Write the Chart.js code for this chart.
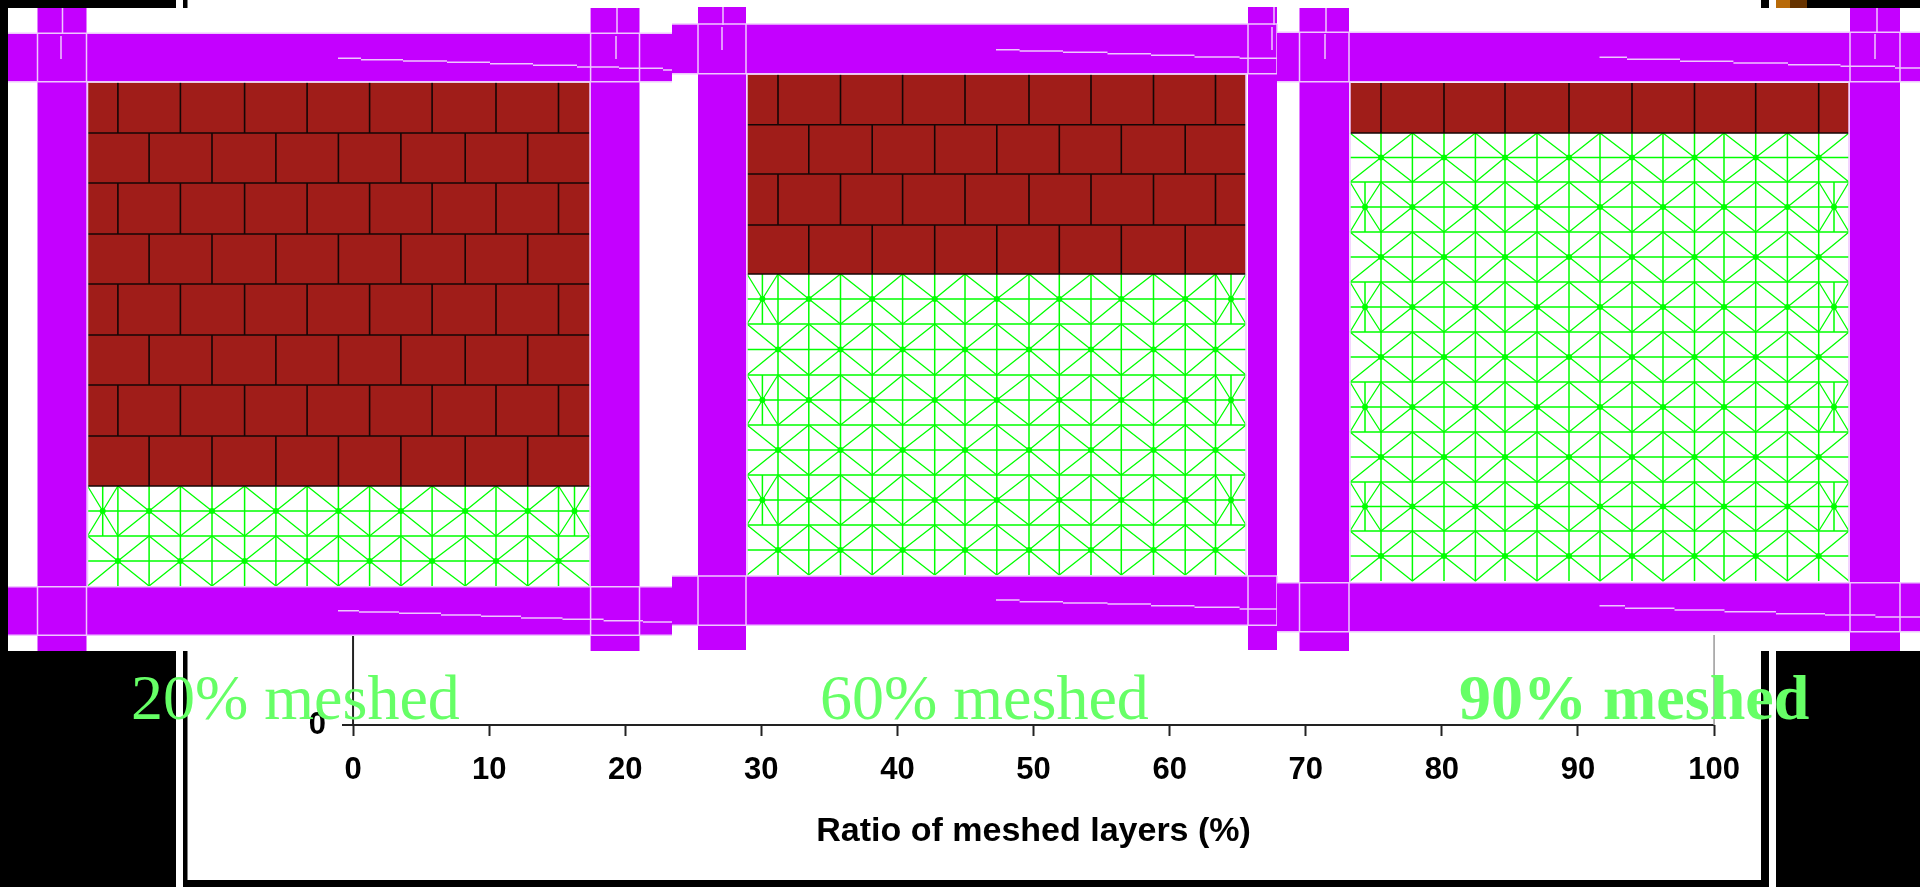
<!DOCTYPE html>
<html>
<head>
<meta charset="utf-8">
<title>Ratio of meshed layers</title>
<script src="https://cdn.jsdelivr.net/npm/chart.js@4"></script>
<style>
  html, body { margin: 0; padding: 0; background: #fff; overflow: hidden; }
  canvas { display: block; }
</style>
</head>
<body>
<canvas id="meshChart" width="1920" height="887"></canvas>
<script>
// AXIS
const xTicks = [0, 10, 20, 30, 40, 50, 60, 70, 80, 90, 100];
const yTicks = [0];
const xTitle = "Ratio of meshed layers (%)";

// CAPTIONS
const captions = ["20% meshed", "60% meshed", "90% meshed"];
const captionStart = [131, 820, 1459];

const rows1 = [82.7, 133, 183, 234, 284, 335, 385, 436, 486, 536, 586];
const brickRows1 = 8;
const jointsA1 = [117.9, 180.4, 244.6, 307.1, 369.6, 432.1, 496, 558.5];
const jointsB1 = [149.1, 212, 275.9, 338.4, 400.9, 465.2, 527.7];
const halves1 = [102.7, 574.5];
const field1 = [87.5, 590];
const columnsX1 = [37.5, 86.5, 590.6, 639.5];
const beamsY1 = [33.3, 81.7, 586.7, 635.3];
const beamX1 = [8, 672];
const columnY1 = [8, 651];
const crackTopX1 = [338, 361, 403, 447, 490, 533, 577, 619, 663, 672];
const crackTopY1 = [58.3, 59.7, 61, 62.3, 63.7, 65.3, 67, 68.3, 70];
const crackLowX1 = [338, 359, 399, 441, 481, 521, 562.5, 603.6, 643, 672];
const crackLowY1 = [610.7, 612, 613.3, 615, 616.3, 618, 619.3, 620.7, 622];

// PANEL 2
const rows2 = [74.7, 124.7, 174, 225, 274, 324, 375, 425, 475, 525, 575];
const brickRows2 = 4;
const jointsA2 = [778, 840.5, 902.6, 965, 1029, 1091, 1153.5, 1215.5];
const jointsB2 = [808.8, 872.2, 934.7, 996.8, 1059.3, 1121.3, 1185.2];
const halves2 = [762.4, 1231];
const field2 = [747, 1246];
const columnsX2 = [698, 746, 1248, 1277];
const beamsY2 = [24, 73.7, 576, 625.3];
const beamX2 = [672, 1277];
const columnY2 = [7, 650];
const crackTopX2 = [996, 1019.6, 1063, 1107.5, 1151, 1194.5, 1239.6, 1277];
const crackTopY2 = [49.7, 51, 52.3, 53.7, 55.3, 57, 58.3];
const crackLowX2 = [996, 1019.6, 1063, 1107.5, 1151, 1194.5, 1239.6, 1277];
const crackLowY2 = [600, 601.7, 603, 604, 605.7, 607.3, 609];

// PANEL 3
const rows3 = [83, 133, 182, 232, 282, 332, 382, 432, 482, 531, 581];
const brickRows3 = 1;
const jointsA3 = [1381, 1444, 1505, 1569, 1632, 1694.5, 1755.7, 1818.7];
const jointsB3 = [1412.4, 1475.4, 1537, 1600, 1663, 1724, 1787.4];
const halves3 = [1365, 1834];
const field3 = [1350, 1849];
const columnsX3 = [1299.5, 1349, 1850, 1900];
const beamsY3 = [32.3, 81.7, 582.7, 631.7];
const beamX3 = [1277, 1920];
const columnY3 = [8, 651];
const crackTopX3 = [1599.5, 1627, 1680, 1733.4, 1788, 1840.5, 1895, 1920];
const crackTopY3 = [57.3, 59.3, 61.3, 63, 64.7, 66.3, 68];
const crackLowX3 = [1599.5, 1625, 1674.5, 1724.5, 1776, 1825, 1875.4, 1920];
const crackLowY3 = [605.7, 608.3, 610, 611.7, 613.7, 615, 617];

// small marks inside the columns: x top, y top end, x lower, y lower end
const columnMarks1 = [[62.5, 8, 33, 61, 36, 59], [617, 8, 33, 616, 36, 59]];
const columnMarks2 = [[723, 7, 25, 722, 27, 50], [1274, 7, 25, 1272, 27, 50]];
const columnMarks3 = [[1326, 8, 32, 1325, 34, 59], [1877, 8, 32, 1875, 34, 59]];

// PICTURE FRAME, black and brown bits: x0, x1, y0, y1
const frameBlack = [
  [0, 176, 0, 8], [0, 8, 0, 651], [0, 176, 651, 887],
  [183, 187.5, 0, 8], [183, 187.5, 651, 887],
  [1761, 1769, 0, 8], [1761, 1769, 651, 887],
  [183, 1769, 880, 887],
  [1776, 1920, 651, 887], [1807, 1920, 0, 8]
];
const frameOrange = [1776, 1790, 0, 8];
const frameBrown = [1790, 1807, 0, 8];

const PURPLE = "#c400ff";
const EDGE = "#efc6ff";
const BRICK = "#a01d19";
const GREEN = "#00ff00";

const datasets = [];

function push(ds) {
  datasets.push(Object.assign({
    type: "line",
    xAxisID: "fx",
    yAxisID: "fy",
    clip: false,
    pointRadius: 0,
    tension: 0,
    borderWidth: 0,
    borderCapStyle: "butt",
    borderJoinStyle: "miter",
    spanGaps: false,
    order: -datasets.length
  }, ds));
}

function rect(x0, x1, y0, y1, color) {
  push({
    data: [{x: x0, y: y0}, {x: x1, y: y0}, {x: x1, y: y1}, {x: x0, y: y1}, {x: x0, y: y0}],
    fill: "shape",
    backgroundColor: color,
    borderColor: color
  });
}

function lines(segs, color, width) {
  const data = [];
  segs.forEach(s => {
    data.push({x: s[0], y: s[1]}, {x: s[2], y: s[3]}, {x: s[2], y: null});
  });
  push({data: data, borderColor: color, borderWidth: width, fill: false});
}

function addPanel(rows, brickRows, jointsA, jointsB, halves, field, colX, beamY, beamX, colY, topX, topY, lowX, lowY, marks) {
  const L = field[0], R = field[1];

  // frame of the wall
  rect(colX[0], colX[1], colY[0], colY[1], PURPLE);
  rect(colX[2], colX[3], colY[0], colY[1], PURPLE);
  rect(L, R, rows[0], rows[10], "#ffffff");
  rect(beamX[0], beamX[1], beamY[0], beamY[1], PURPLE);
  rect(beamX[0], beamX[1], beamY[2], beamY[3], PURPLE);

  // bricks
  rect(L, R, rows[0], rows[brickRows], BRICK);
  const brickSegs = [];
  for (let r = 0; r < brickRows; r++) {
    const joints = r % 2 === 0 ? jointsA : jointsB;
    joints.forEach(x => brickSegs.push([x, rows[r], x, rows[r + 1]]));
    if (r > 0) brickSegs.push([L, rows[r], R, rows[r]]);
  }
  brickSegs.push([L, rows[brickRows], R, rows[brickRows]]);

  // meshed layers
  const straight = [], diagonal = [], nodes = [];
  for (let r = brickRows; r < 10; r++) {
    const top = rows[r], bot = rows[r + 1], mid = (top + bot) / 2;
    const typeA = r % 2 === 1;
    const own = typeA ? jointsA : [halves[0]].concat(jointsB, [halves[1]]);
    const other = typeA ? [L].concat(jointsB, [R]) : [L].concat(jointsA, [R]);
    own.concat(other.slice(1, -1)).forEach(x => straight.push([x, top, x, bot]));
    straight.push([L, mid, R, mid]);
    if (r < 9) straight.push([L, bot, R, bot]);
    own.forEach((x, i) => {
      nodes.push({x: x, y: mid});
      diagonal.push([x, mid, other[i], top], [x, mid, other[i], bot]);
      diagonal.push([x, mid, other[i + 1], top], [x, mid, other[i + 1], bot]);
    });
  }
  lines(diagonal, GREEN, 1.3);
  lines(straight, GREEN, 1.5);
  push({data: nodes, showLine: false, pointRadius: 3, pointBackgroundColor: GREEN, pointBorderWidth: 0});
  lines(brickSegs, "#140606", 1.6);

  // light edges on the beams and columns
  const edges = [];
  beamY.forEach(y => edges.push([beamX[0], y, beamX[1], y]));
  colX.forEach(x => {
    edges.push([x, beamY[0], x, beamY[1]]);
    edges.push([x, beamY[2], x, beamY[3]]);
  });
  edges.push([L, beamY[1], L, beamY[2]]);
  edges.push([R, beamY[1], R, beamY[2]]);
  marks.forEach(m => {
    edges.push([m[0], m[1], m[0], m[2]]);
    edges.push([m[3], m[4], m[3], m[5]]);
  });
  topY.forEach((y, i) => edges.push([topX[i], y, topX[i + 1], y]));
  lowY.forEach((y, i) => edges.push([lowX[i], y, lowX[i + 1], y]));
  lines(edges, EDGE, 1.5);
}

// axis lines and the y tick, under everything else
push({xAxisID: "x", yAxisID: "y", data: [{x: 0, y: 0}, {x: 100, y: 0}], borderColor: "#222222", borderWidth: 2, fill: false});
push({xAxisID: "x", yAxisID: "y", data: [{x: 0, y: 0}, {x: 0, y: 90}], borderColor: "#222222", borderWidth: 2, fill: false});
push({xAxisID: "x", yAxisID: "y", data: [{x: -0.81, y: 0}, {x: 0, y: 0}], borderColor: "#222222", borderWidth: 2, fill: false});
push({xAxisID: "x", yAxisID: "y", data: [{x: 100, y: 0}, {x: 100, y: 90}], borderColor: "#999999", borderWidth: 1.5, fill: false});

addPanel(rows1, brickRows1, jointsA1, jointsB1, halves1, field1, columnsX1, beamsY1, beamX1, columnY1, crackTopX1, crackTopY1, crackLowX1, crackLowY1, columnMarks1);
addPanel(rows2, brickRows2, jointsA2, jointsB2, halves2, field2, columnsX2, beamsY2, beamX2, columnY2, crackTopX2, crackTopY2, crackLowX2, crackLowY2, columnMarks2);
addPanel(rows3, brickRows3, jointsA3, jointsB3, halves3, field3, columnsX3, beamsY3, beamX3, columnY3, crackTopX3, crackTopY3, crackLowX3, crackLowY3, columnMarks3);

frameBlack.forEach(b => rect(b[0], b[1], b[2], b[3], "#000000"));
rect(frameOrange[0], frameOrange[1], frameOrange[2], frameOrange[3], "#b86a08");
rect(frameBrown[0], frameBrown[1], frameBrown[2], frameBrown[3], "#663300");

// axis title and the green captions sit on top of the drawing
const textPlugin = {
  id: "texts",
  afterDatasetsDraw(chart) {
    const ctx = chart.ctx, fx = chart.scales.fx, fy = chart.scales.fy;
    ctx.save();
    ctx.textAlign = "center";
    ctx.textBaseline = "alphabetic";
    ctx.fillStyle = "#000000";
    ctx.font = 'bold 34px "Liberation Sans"';
    ctx.fillText(xTitle, chart.scales.x.getPixelForValue(50), fy.getPixelForValue(841));
    ctx.textAlign = "left";
    ctx.fillStyle = "#66ff66";
    captions.forEach((text, i) => {
      ctx.font = (i === 2 ? "bold " : "") + '64px "Liberation Serif"';
      ctx.fillText(text, fx.getPixelForValue(captionStart[i]), fy.getPixelForValue(719));
    });
    ctx.restore();
  }
};

const noOverflow = s => { s.paddingLeft = s.paddingRight = s.paddingTop = s.paddingBottom = 0; };

new Chart(document.getElementById("meshChart"), {
  type: "line",
  data: {datasets: datasets},
  plugins: [textPlugin],
  options: {
    responsive: false,
    devicePixelRatio: 1,
    animation: false,
    layout: {padding: 0, autoPadding: false},
    plugins: {legend: {display: false}, tooltip: {enabled: false}},
    scales: {
      fx: {type: "linear", display: false, position: "top", min: 0, max: 1920},
      fy: {type: "linear", display: false, position: "right", min: 0, max: 887, reverse: true},
      x: {
        type: "linear",
        position: {y: 0},
        min: -25.94,
        max: 115.13,
        afterBuildTicks: s => { s.ticks = xTicks.map(v => ({value: v})); },
        afterFit: noOverflow,
        grid: {drawOnChartArea: false, tickLength: 11, tickColor: "#222222", tickWidth: 2},
        border: {display: false},
        ticks: {
          autoSkip: false, maxRotation: 0, padding: 16, color: "#000000",
          font: {family: "Liberation Sans", size: 31, weight: "bold"}
        }
      },
      y: {
        type: "linear",
        // a y axis placed by value puts its labels right on that value, so it sits where the label ends
        position: {x: -1.98},
        min: -162,
        max: 725,
        afterBuildTicks: s => { s.ticks = yTicks.map(v => ({value: v})); },
        afterFit: noOverflow,
        grid: {display: false},
        border: {display: false},
        ticks: {
          autoSkip: false, padding: 0, color: "#000000",
          font: {family: "Liberation Sans", size: 31, weight: "bold"}
        }
      }
    }
  }
});
</script>
</body>
</html>
